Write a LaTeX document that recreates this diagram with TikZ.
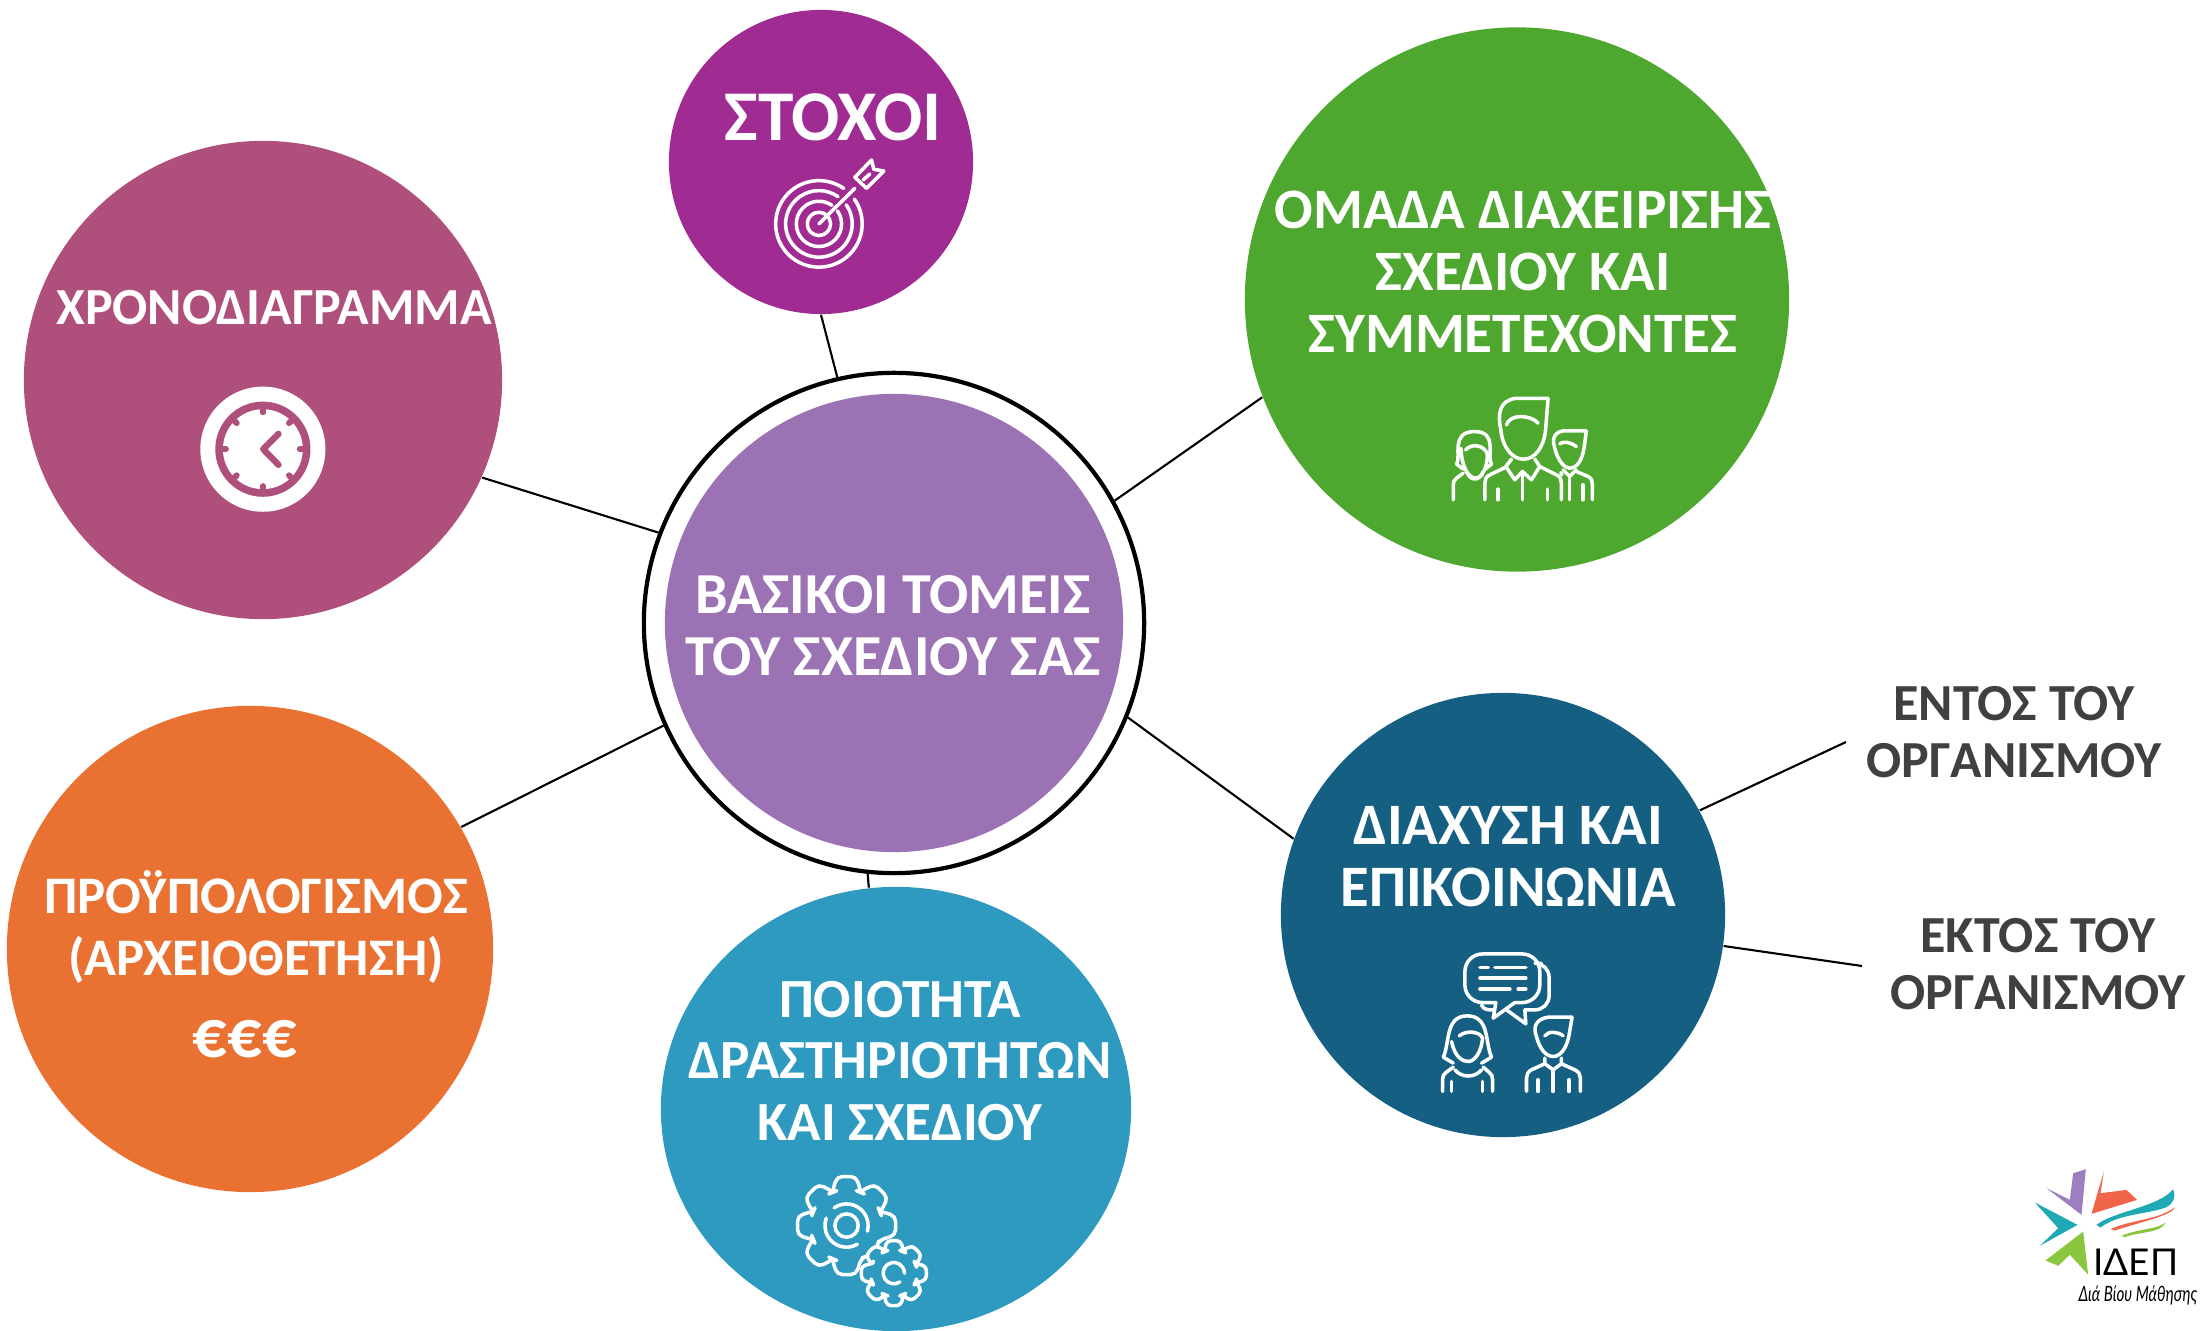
\documentclass[tikz,border=0pt]{standalone}
\usepackage{fontspec}
\usetikzlibrary{shapes.geometric}
\setmainfont{Carlito}
\newfontfamily\latofont{Lato}
\definecolor{cHub}{HTML}{9B72B3}
\definecolor{cGoal}{HTML}{A02B93}
\definecolor{cGreen}{HTML}{4EA72E}
\definecolor{cDark}{HTML}{156082}
\definecolor{cTeal}{HTML}{2E9ABF}
\definecolor{cOrange}{HTML}{E97132}
\definecolor{cMaroon}{HTML}{AE4F7C}
\definecolor{cGrey}{HTML}{404040}
\tikzset{
 disc/.style={circle,inner sep=0pt,draw=none},
 lab/.style={text=white,font=\fontsize{#1}{17.6}\selectfont\bfseries,align=center,inner sep=0pt},
 sidelab/.style={text=cGrey,font=\fontsize{14.8}{16.4}\selectfont\bfseries,align=center,inner sep=0pt},
 link/.style={draw=black,line width=0.6pt},
 ico/.style={draw=white,line width=1pt,line cap=round,line join=round},
}
\begin{document}
\begin{tikzpicture}[x=0.01cm,y=-0.01cm]
\useasboundingbox (0,0) rectangle (2205,1331);
\clip (0,0) rectangle (2205,1331);
% discs
\node[disc,draw=black,line width=1.2pt,fill=white,minimum size=5.00cm] (hub) at (894,623) {};
\node[disc,fill=cHub,minimum size=4.58cm] (hubin) at (894,623) {};
\node[disc,fill=cGoal,minimum size=3.04cm] (goal) at (821,162) {};
\node[disc,fill=cGreen,minimum size=5.44cm] (team) at (1517,299.5) {};
\node[disc,fill=cDark,minimum size=4.44cm] (comm) at (1503,915) {};
\node[ellipse,inner sep=0pt,fill=cTeal,minimum width=4.70cm,minimum height=4.44cm] (qual) at (896,1109) {};
\node[disc,fill=cOrange,minimum size=4.86cm] (budget) at (250,949) {};
\node[disc,fill=cMaroon,minimum size=4.78cm] (time) at (263,380) {};
% free ends
\coordinate (inEnd) at (1846,742);
\coordinate (outEnd) at (1862,966);
% connectors
\draw[link] (hub.103.6) -- (goal.270);
\draw[link] (hub.29.2) -- (team.201.2);
\draw[link] (hub.-22.1) -- (comm.160);
\draw[link] (hub.264.6) -- (qual.97);
\draw[link] (hub.204.7) -- (budget.30.4);
\draw[link] (hub.159.1) -- (time.-24.6);
\draw[link] (comm.28.5) -- (inEnd);
\draw[link] (comm.-8.5) -- (outEnd);
% labels
\node[lab=16.5] (thub) at (893,626) {ΒΑΣΙΚΟΙ ΤΟΜΕΙΣ\\ΤΟΥ ΣΧΕΔΙΟΥ ΣΑΣ};
\node[lab=20.3] (tgoal) at (833,117) {ΣΤΟΧΟΙ};
\node[lab=16.25] (tteam) at (1523,272) {ΟΜΑΔΑ ΔΙΑΧΕΙΡΙΣΗΣ\\ΣΧΕΔΙΟΥ ΚΑΙ\\ΣΥΜΜΕΤΕΧΟΝΤΕΣ};
\node[lab=14.8] (ttime) at (274,308) {ΧΡΟΝΟΔΙΑΓΡΑΜΜΑ};
\node[lab=16.7] (tcomm) at (1508,857) {ΔΙΑΧΥΣΗ ΚΑΙ\\ΕΠΙΚΟΙΝΩΝΙΑ};
\node[lab=15] (tbudget) at (256,927) {ΠΡΟΫΠΟΛΟΓΙΣΜΟΣ\\(ΑΡΧΕΙΟΘΕΤΗΣΗ)};
\node[lab=19.5] (teuro) at (245,1039) {€€€};
\node[lab=15.7] (tqual) at (900,1061) {ΠΟΙΟΤΗΤΑ\\ΔΡΑΣΤΗΡΙΟΤΗΤΩΝ\\ΚΑΙ ΣΧΕΔΙΟΥ};
\node[sidelab] (tin) at (2014,732) {ΕΝΤΟΣ ΤΟΥ\\ΟΡΓΑΝΙΣΜΟΥ};
\node[sidelab] (tout) at (2038,964) {ΕΚΤΟΣ ΤΟΥ\\ΟΡΓΑΝΙΣΜΟΥ};
% target icon
\begin{scope}[shift={(770,160)},x=0.00333cm,y=-0.00333cm,ico]
\draw (147,192) circle[radius=35];
\draw (147,192)++(-35:68) arc[start angle=-35,end angle=305,radius=68];
\draw (147,192)++(-35:100) arc[start angle=-35,end angle=305,radius=100];
\draw (147,192)++(-35:130) arc[start angle=-35,end angle=305,radius=130];
\draw (147,192) -- (255,85);
\draw (255,52) -- (290,85) -- (342,33) -- (312,28) -- (305,0) -- cycle;
\draw (280,60) -- (300,42);
\end{scope}
% clock icon
\begin{scope}[shift={(180,370)},x=0.00333cm,y=-0.00333cm]
\fill[white] (249,238) circle[radius=188];
\fill[cMaroon] (249,238) circle[radius=143];
\fill[white] (249,238) circle[radius=120];
\foreach \a in {0,45,...,315}
  \draw[cMaroon,line width=1.7pt,line cap=round] (249,238)++(\a:125) -- ++(\a:-14);
\draw[cMaroon,line width=1.8pt,line cap=round,line join=round] (296,192) -- (250,238) -- (296,285);
\end{scope}
% team icon
\begin{scope}[shift={(1400,370)},x=0.00333cm,y=-0.00333cm,ico]
\draw (445,85) -- (350,85) .. controls (297,90) and (293,135) .. (303,180) .. controls (308,235) and (340,268) .. (370,268) .. controls (405,268) and (430,235) .. (437,185) -- (445,85);
\draw (320,165) .. controls (330,130) and (395,135) .. (415,160);
\draw (335,268) -- (318,290) -- (345,330) -- (368,305) -- (395,330) -- (420,290) -- (405,268);
\draw (368,305) -- (368,390);
\draw (318,292) -- (270,315) .. controls (258,320) and (255,330) .. (255,340) -- (255,390);
\draw (420,290) -- (470,315) .. controls (482,320) and (485,330) .. (485,340) -- (485,390);
\draw (295,358) -- (295,390);
\draw (443,358) -- (443,390);
% woman
\draw (190,298) -- (170,283) .. controls (185,260) and (150,185) .. (225,185) .. controls (295,185) and (260,260) .. (275,283) -- (255,298);
\draw (183,235) .. controls (185,290) and (205,325) .. (228,325) .. controls (250,325) and (265,280) .. (262,250) .. controls (250,225) and (215,220) .. (197,240);
\draw (200,305) .. controls (210,335) and (240,335) .. (250,305);
\draw (190,310) -- (170,325) .. controls (162,330) and (160,338) .. (160,345) -- (160,390);
% right man
\draw (560,183) -- (490,183) .. controls (458,188) and (458,215) .. (465,235) .. controls (475,275) and (495,295) .. (510,295) .. controls (535,295) and (548,265) .. (553,235) -- (560,183);
\draw (480,222) .. controls (490,212) and (515,218) .. (530,230);
\draw (490,300) -- (510,320) -- (530,300);
\draw (510,320) -- (510,390);
\draw (530,305) -- (565,320) .. controls (575,325) and (578,332) .. (578,342) -- (578,390);
\draw (483,308) -- (487,315);
\draw (550,345) -- (550,390);
\end{scope}
% chat icon
\begin{scope}[shift={(1410,930)},x=0.00333cm,y=-0.00333cm,ico]
\draw[rounded corners=5pt] (258,218) -- (165,218) -- (165,72) -- (390,72) -- (390,218) -- (315,218);
\draw (258,218) -- (250,265) -- (315,218);
\draw[rounded corners=4pt] (395,100) -- (418,100) -- (418,240) -- (345,240);
\draw (345,240) -- (348,282) -- (290,240);
\draw (215,225) .. controls (220,240) and (235,240) .. (250,240);
\draw (210,112) -- (235,112);
\draw (255,112) -- (348,112);
\draw (210,145) -- (348,145);
\draw (210,178) -- (300,178);
\draw (325,178) -- (348,178);
% woman
\draw (130,400) -- (100,382) .. controls (120,340) and (105,258) .. (172,258) .. controls (240,258) and (225,340) .. (245,382) -- (215,400);
\draw (125,335) .. controls (135,385) and (160,395) .. (175,395) .. controls (195,395) and (215,365) .. (218,325) .. controls (210,305) and (170,300) .. (148,318);
\draw (135,420) .. controls (155,445) and (195,445) .. (215,420);
\draw (130,412) -- (108,428) .. controls (100,433) and (98,440) .. (98,450) -- (98,485);
\draw (220,412) -- (238,428) .. controls (246,433) and (248,440) .. (248,450) -- (248,485);
\draw (125,455) -- (125,485);
\draw (218,455) -- (218,485);
% man
\draw (487,262) -- (415,262) .. controls (375,268) and (370,295) .. (380,320) .. controls (390,360) and (410,380) .. (430,380) .. controls (455,380) and (472,350) .. (478,315) -- (487,262);
\draw (405,318) .. controls (415,303) and (445,305) .. (460,318);
\draw (405,385) -- (405,402) -- (430,420) -- (455,402) -- (455,385);
\draw (430,420) -- (430,485);
\draw (405,402) -- (365,420) .. controls (355,425) and (350,435) .. (350,445) -- (350,485);
\draw (455,402) -- (495,420) .. controls (507,425) and (512,435) .. (512,445) -- (512,485);
\draw (385,450) -- (385,485);
\draw (478,450) -- (478,485);
\end{scope}
% gears
\begin{scope}[shift={(780,1160)},x=0.00333cm,y=-0.00333cm,ico]
\begin{scope}[shift={(200,197)}]
\draw[rounded corners=1.5pt] (65:108) \foreach \a in {90,135,...,360} { -- ({\a-24}:108) -- ({\a-11}:150) -- ({\a+11}:150) -- ({\a+24}:108)} -- (385:108);
\draw (0,0) circle[radius=35];
\draw (60:65) arc[start angle=60,end angle=200,radius=65];
\draw (235:65) arc[start angle=235,end angle=375,radius=65];
\end{scope}
\begin{scope}[shift={(342,340)}]
\draw[rounded corners=1.2pt] (205:70) \foreach \a in {225,270,...,540} { -- ({\a-25}:70) -- ({\a-12}:100) -- ({\a+12}:100) -- ({\a+25}:70)};
\draw (55:32) arc[start angle=55,end angle=360,radius=32];
\end{scope}
\end{scope}
% logo
\begin{scope}[shift={(1980,1130)},x=0.00333cm,y=-0.00333cm]
\definecolor{lPurple}{HTML}{9B7FBF}
\definecolor{lRed}{HTML}{F0654A}
\definecolor{lTeal}{HTML}{1FA9B4}
\definecolor{lGreen}{HTML}{8CC63F}
\fill[lPurple] (200,175) -- (270,210) -- (280,130) -- (318,118) -- (305,255) -- cycle;
\fill[lRed] (372,125) -- (362,190) -- (440,180) -- (472,210) -- (335,252) -- cycle;
\fill[lTeal] (165,218) -- (293,285) -- (180,348) -- (235,295) -- cycle;
\fill[lGreen] (310,305) -- (325,435) -- (270,375) -- (235,408) -- (197,392) -- cycle;
\fill[lTeal] (350,285) .. controls (400,245) and (540,230) .. (580,178) .. controls (592,205) and (575,225) .. (560,232) .. controls (500,255) and (420,250) .. (362,293) -- cycle;
\fill[lRed] (392,298) .. controls (450,270) and (540,270) .. (585,232) .. controls (585,255) and (470,280) .. (405,302) -- cycle;
\fill[lGreen] (425,318) .. controls (480,295) and (530,300) .. (558,278) .. controls (545,310) and (480,305) .. (435,322) -- cycle;
\node[inner sep=0pt,text=black,font=\latofont\fontsize{10.5}{10}\selectfont] (lname) at (468,398) {ΙΔΕΠ};
\node[inner sep=0pt,text=black,font=\latofont\fontsize{6}{6}\selectfont\itshape] (lsub) at (474,497) {\scalebox{0.72}[1]{Διά Βίου Μάθησης}};
\end{scope}
\end{tikzpicture}
\end{document}
